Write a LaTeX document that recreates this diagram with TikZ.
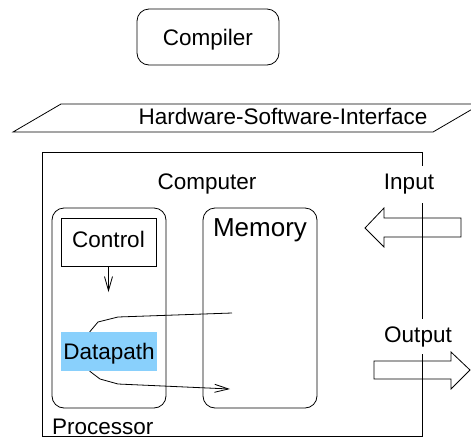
\documentclass[tikz,border=0pt]{standalone}
\usepackage{fontspec}
\setmainfont{Liberation Sans}
\usetikzlibrary{arrows.meta,calc}
\definecolor{dpblue}{RGB}{137,208,252}
\begin{document}
\begin{tikzpicture}[x=1pt,y=-1pt,
  every node/.style={font=\fontsize{22.5}{27}\selectfont, inner sep=0pt},
  thinline/.style={line width=0.8pt, draw=black},
  plainbox/.style={thinline, rectangle},
  roundbox/.style={thinline, rectangle, rounded corners=12pt},
  barb/.style={-{Straight Barb[length=14pt,width=8pt]}},
  labelbox/.style={fill=white, inner xsep=1pt}
]
\useasboundingbox (0,0) rectangle (471,437);
\clip (0,0) rectangle (471,437);

% software side
\node[roundbox, minimum width=142pt, minimum height=56pt, text depth=0pt]
  (compiler) at (208,37) {Compiler};

% interface plane
\draw[thinline] (13,132) -- (61,104) -- (481,104) -- (433,132) -- cycle;
\node (hsi) at (283,116) {Hardware-Software-Interface};

% computer
\node[plainbox, minimum width=380pt, minimum height=284pt] (computer) at (232,294) {};
\node (complabel) at (207,183.5) {Computer};

% processor and memory
\node[roundbox, minimum width=114pt, minimum height=200pt] (processor) at (109,308) {};
\node[roundbox, minimum width=114pt, minimum height=200pt] (memory) at (260,308) {};
\node[font=\fontsize{26}{31}\selectfont] (memlabel) at (260,230) {Memory};
\node[anchor=base west] (proclabel) at (52,434) {Processor};

\node[plainbox, minimum width=95pt, minimum height=48pt, text depth=6pt]
  (control) at (108.5,242) {Control};
\node[fill=dpblue, minimum width=96pt, minimum height=39pt, text depth=0pt]
  (datapath) at (109,351.5) {Datapath};

% control signal
\coordinate (ctrlend) at (108.5,292);
\draw[thinline, barb] (control.south) -- (ctrlend);

% data paths between datapath and memory
\coordinate (dptop) at ($(datapath.north west)!0.3!(datapath.north east)$);
\coordinate (dpbot) at ($(datapath.south west)!0.3!(datapath.south east)$);
\coordinate (memin) at (232,313);
\coordinate (memout) at (230,389);
\draw[thinline] (memin) -- (118,317) -- (98,322) -- (dptop);
\draw[thinline, barb] (dpbot) -- (100,379) -- (118,384) -- (memout);

% input / output
\node[labelbox, minimum height=37pt] (inlabel) at (409,184) {Input};
\node[labelbox, minimum height=35pt] (outlabel) at (418,336.5) {Output};
\draw[thinline] (461,218) -- (384,218) -- (384,208) -- (365,228) -- (384,247)
  -- (384,237) -- (461,237) -- cycle;
\draw[thinline] (374,361) -- (451,361) -- (451,352) -- (470,370) -- (451,389)
  -- (451,379) -- (374,379) -- cycle;
\end{tikzpicture}
\end{document}
